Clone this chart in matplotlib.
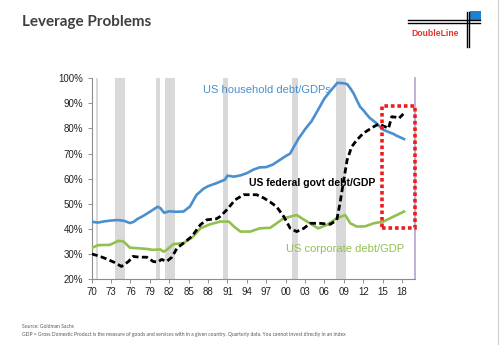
import matplotlib
matplotlib.use("Agg")
import matplotlib.pyplot as plt
from matplotlib.patches import Rectangle
from matplotlib.lines import Line2D

plt.rcParams['font.family'] = ['Liberation Sans', 'DejaVu Sans']

# household debt / GDP (%)
hh_years = [1970, 1971, 1972, 1973, 1974, 1975, 1975.9, 1976.5, 1977, 1978, 1979,
            1980.2, 1980.6, 1981.2, 1982, 1983, 1984.2, 1985.2, 1986.2, 1987.3, 1988,
            1989.3, 1990.6, 1991, 1992, 1993, 1994, 1995, 1996, 1997, 1998, 1999,
            2000, 2000.7, 2001, 2002, 2003, 2004, 2005, 2006, 2007, 2008, 2009,
            2009.5, 2010, 2010.5, 2011, 2011.5, 2012, 2012.6, 2013, 2014, 2015,
            2016, 2016.7, 2017, 2018.3]
hh = [42.8, 42.5, 43, 43.3, 43.5, 43.2, 42.3, 42.8, 43.8, 45.2, 46.8,
      48.8, 48.3, 46.4, 47, 46.8, 46.9, 48.9, 53.5, 56, 57,
      58.2, 59.6, 61.2, 60.8, 61.3, 62.2, 63.6, 64.5, 64.6, 65.6, 67.3,
      69, 70, 71.5, 76, 79.7, 82.9, 87.4, 92, 95.2, 98.2, 98,
      97.7, 96, 94, 91.3, 88.7, 87.3, 85.4, 84.2, 82.2, 79.6,
      78.5, 77.8, 77.3, 75.8]

# federal government debt / GDP (%)
fed_years = [1970, 1971.3, 1972.3, 1973.6, 1974.6, 1975.7, 1976.4, 1977.4, 1978.5,
             1979.5, 1980.2, 1980.8, 1981.6, 1982.4, 1983.2, 1984.2, 1985.5, 1986.8,
             1987.8, 1989.3, 1989.9, 1990.9, 1992.2, 1993.5, 1995.5, 1996.6, 1997.6,
             1998.6, 1999.7, 2000.7, 2001.7, 2002.8, 2003.8, 2005.3, 2006.9, 2007.9,
             2008.4, 2008.9, 2009.5, 2010.2, 2011, 2012, 2013.6, 2014.4, 2015.4,
             2015.9, 2016.4, 2017, 2017.5, 2018.2]
fed = [30, 29, 28, 26.5, 25, 27, 29, 28.7, 28.7,
       27, 26.7, 27.8, 27, 28.7, 32.3, 34.3, 37, 41.6,
       43.6, 44, 45, 47.6, 51.6, 53.6, 53.6, 52.3, 50.7,
       48.8, 44.9, 40.2, 38.9, 40.2, 42.2, 42.2, 41.8, 43.5,
       50.2, 58.2, 67.4, 72.7, 75.4, 78.1, 80.7, 81.8, 80.7,
       80, 84.7, 84.5, 84, 85.8]

# corporate debt / GDP (%)
corp_years = [1970, 1971, 1972.8, 1974.1, 1974.9, 1975.9, 1978.5, 1979.5, 1980.6,
              1981.1, 1981.6, 1982.6, 1984.2, 1985.7, 1986.8, 1988.3, 1989.9, 1991.2,
              1992, 1993, 1994.5, 1996, 1997.6, 1999.7, 2001.7, 2003.3, 2005, 2006.4,
              2007.9, 2009.2, 2010, 2011, 2012.3, 2013.6, 2015.1, 2016.7, 2018.3]
corp = [32.4, 33.5, 33.6, 35.2, 35, 32.5, 32, 31.6, 31.8,
        30.9, 31.6, 33.9, 34.3, 36.9, 40.2, 41.8, 42.9, 42.9,
        40.9, 38.9, 38.9, 40.2, 40.4, 44.2, 45.5, 42.9, 40.2, 41.6,
        44.2, 45.5, 42.2, 40.9, 41, 42.2, 42.9, 44.9, 46.9]

# recession periods (start, end)
recessions = [(1970.6, 1970.9), (1973.65, 1975.15), (1980.0, 1980.5),
              (1981.4, 1982.9), (1990.3, 1991.05), (2001.0, 2001.9),
              (2007.8, 2009.4)]

xtick_years = list(range(1970, 2019, 3))
xtick_labels = ["%02d" % (y % 100) for y in xtick_years]
ytick_vals = list(range(20, 101, 10))
ytick_labels = ["%d%%" % v for v in ytick_vals]

blue = '#4a8fcf'
green = '#92c04f'

fig = plt.figure(figsize=(5, 3.45), dpi=100)
ax = fig.add_axes([0.1834, 0.1913, 0.6466, 0.5817])

for a, b in recessions:
    ax.axvspan(a, b, color='#d9d9d9', lw=0, zorder=0)

ax.plot(hh_years, hh, color=blue, lw=1.9, zorder=3)
ax.plot(corp_years, corp, color=green, lw=1.9, zorder=3)
ax.plot(fed_years, fed, color='black', lw=2.0, ls=(0, (2.2, 1.2)), zorder=4)

ax.set_xlim(1970, 2020)
ax.set_ylim(20, 100)
ax.set_xticks(xtick_years)
ax.set_xticklabels(xtick_labels)
ax.set_yticks(ytick_vals)
ax.set_yticklabels(ytick_labels)
ax.tick_params(axis='both', labelsize=7, length=3, width=0.6, color='#808080',
               labelcolor='#222222', pad=3)

ax.spines['top'].set_visible(False)
for s in ('left', 'bottom'):
    ax.spines[s].set_color('#8c8c8c')
    ax.spines[s].set_linewidth(0.8)
ax.spines['right'].set_color('#b3a2d1')
ax.spines['right'].set_linewidth(1.2)

# series labels
ax.text(1987.2, 95.4, "US household debt/GDPs", color=blue, fontsize=8, va='center')
ax.text(1994.3, 58.4, "US federal govt debt/GDP", color='black', fontsize=7.5,
        fontweight='bold', va='center')
ax.text(2000.1, 32.1, "US corporate debt/GDP", color=green, fontsize=8, va='center')

# highlight box around the latest readings
ax.add_patch(Rectangle((2014.9, 40.4), 5.1, 48.6, fill=False, ec='#ee1c1c',
                       lw=2.6, ls=(0, (1, 0.8)), clip_on=False, zorder=5))

# title
fig.text(0.044, 0.936, "Leverage Problems", fontsize=11, fontweight='bold',
         color='#404040', family=['Lato', 'DejaVu Sans'], va='center')

# logo
W, H = 500.0, 345.0
for yy in (20, 22.7):
    fig.add_artist(Line2D([408 / W, 480 / W], [1 - yy / H, 1 - yy / H], color='black', lw=1.0))
for xx in (466.7, 469.4):
    fig.add_artist(Line2D([xx / W, xx / W], [1 - 11.5 / H, 1 - 46.7 / H], color='black', lw=1.0))
fig.add_artist(Rectangle((470.3 / W, 1 - 20.5 / H), 10.7 / W, 9.5 / H, color='#1f7fd0',
                         transform=fig.transFigure, lw=0))
fig.text(411 / W, 1 - 34 / H, "DoubleLine", color='#e8312f', fontsize=6.2,
         fontweight='bold', va='center')

# footnotes
fig.text(0.044, 1 - 327 / H, "Source: Goldman Sachs", fontsize=3.6, color='#555555',
         family=['Lato', 'DejaVu Sans'], va='center')
fig.text(0.044, 1 - 334.5 / H,
         "GDP = Gross Domestic Product is the measure of goods and services with in a given country. "
         "Quarterly data. You cannot invest directly in an index",
         fontsize=3.6, color='#555555', family=['Lato', 'DejaVu Sans'], va='center')

# slide border on the right
fig.add_artist(Line2D([497.5 / W, 497.5 / W], [0, 1], color='#d0d0d0', lw=0.8))

fig.savefig("out.png", dpi=100)
